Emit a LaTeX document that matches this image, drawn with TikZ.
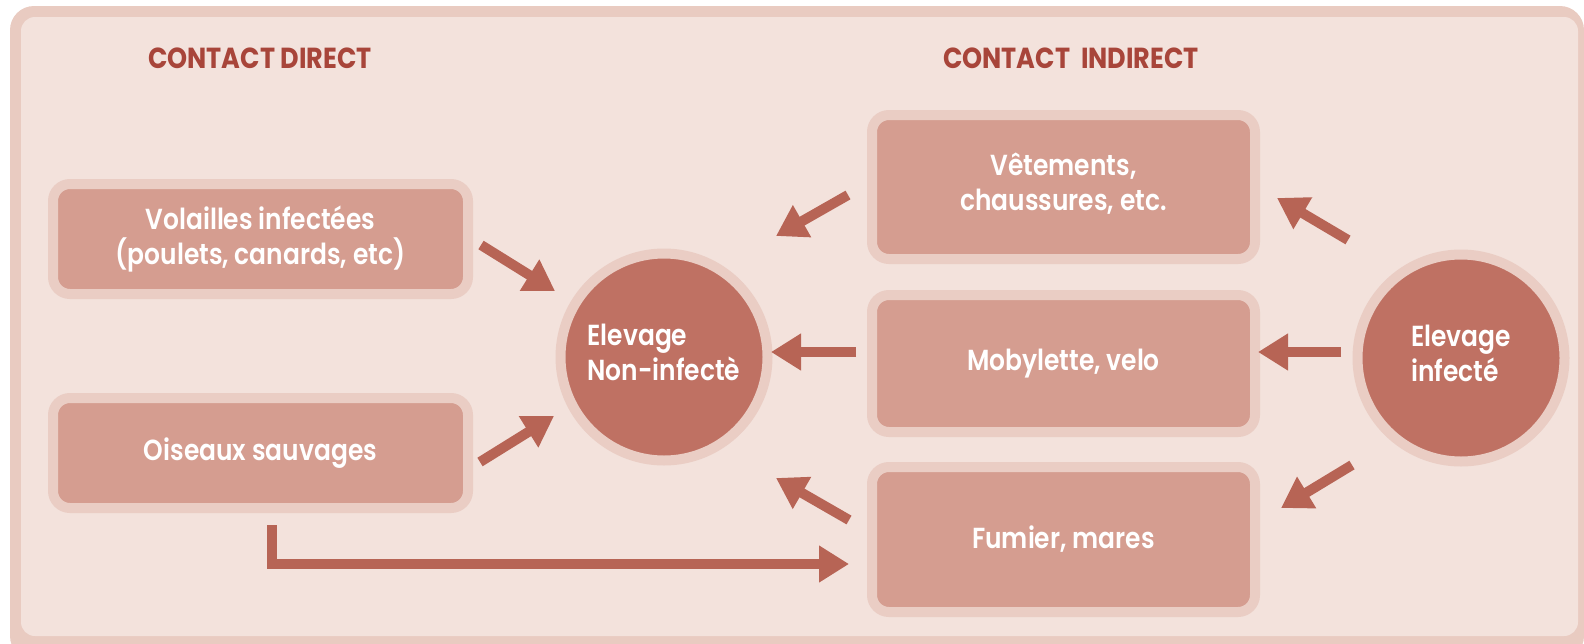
\documentclass[tikz,border=0pt]{standalone}
\usepackage{fontspec}
\newfontfamily\pf{Poppins}[FakeStretch=0.88]
\newfontfamily\pfm{Poppins}[UprightFont=* SemiBold, FakeStretch=0.86]
\usetikzlibrary{arrows.meta}
\definecolor{bgc}{HTML}{F3E2DC}
\definecolor{framec}{HTML}{E9CBC1}
\definecolor{ringc}{HTML}{EACDC4}
\definecolor{boxc}{HTML}{D59D90}
\definecolor{circc}{HTML}{BF7163}
\definecolor{arrc}{HTML}{B76455}
\definecolor{titc}{HTML}{A8453A}
\begin{document}
\begin{tikzpicture}[x=1pt,y=-1pt,
  txt/.style={text=white, font=\pfm\fontsize{29}{35}\selectfont},
  box/.style={txt, rounded corners=17pt, fill=boxc, draw=ringc, line width=10pt,
    align=center, inner sep=0pt, minimum width=#1},
  circ/.style={txt, circle, fill=circc, draw=ringc, line width=10pt,
    minimum size=207pt, align=left, inner sep=0pt},
  arr/.style={draw=arrc, line width=10pt, line join=miter, -{Triangle[length=30pt,width=35pt]}},
  ttl/.style={text=titc, font=\pf\bfseries\fontsize{29}{35}\selectfont}]
\useasboundingbox (0,0) rectangle (1584,643);
\begin{scope}
  \clip (0,0) rectangle (1584,643);
  \fill[framec, rounded corners=24pt] (10,6) rectangle (1584,660);
  \fill[bgc, rounded corners=14pt] (21,17) rectangle (1578,636);
\end{scope}
% titles
\node[ttl] (t1) at (260,58) {CONTACT DIRECT};
\node[ttl] (t2) at (1071,58) {CONTACT\ \ INDIRECT};
% left boxes
\node[box=415pt, minimum height=110pt] (vol) at (260.5,239) {Volailles infectées\\(poulets, canards, etc)};
\node[box=415pt, minimum height=110pt] (ois) at (260.5,453) {Oiseaux sauvages};
% right boxes
\node[box=383pt, minimum height=144pt] (vet) at (1063.5,187) {Vêtements,\\chaussures, etc.\\[-25pt]\mbox{}};
\node[box=383pt, minimum height=137pt] (mob) at (1063.5,363.5) {Mobylette, velo};
\node[box=383pt, minimum height=145pt] (fum) at (1063.5,539.5) {Fumier, mares};
% circles
\node[circ] (non) at (664,357) {Elevage\\Non-infectè\\[-25pt]\mbox{}};
\node[circ] (inf) at (1461,358) {Elevage\\infecté\\[-25pt]\mbox{}};
% arrow end points
\coordinate (a1s) at (481,245); \coordinate (a1e) at (555,291);
\coordinate (a2s) at (480,462); \coordinate (a2e) at (554,416);
\coordinate (a3s) at (848,195); \coordinate (a3e) at (776,236);
\coordinate (a4s) at (856,352); \coordinate (a4e) at (771,352);
\coordinate (a5s) at (849,520); \coordinate (a5e) at (776,478);
\coordinate (a6s) at (1348,240); \coordinate (a6e) at (1277,198);
\coordinate (a7s) at (1341,352); \coordinate (a7e) at (1258,352);
\coordinate (a8s) at (1352,465); \coordinate (a8e) at (1281,508);
\coordinate (a9s) at (272,525); \coordinate (a9e) at (849,564);
\draw[arr] (a1s) -- (a1e);
\draw[arr] (a2s) -- (a2e);
\draw[arr] (a3s) -- (a3e);
\draw[arr] (a4s) -- (a4e);
\draw[arr] (a5s) -- (a5e);
\draw[arr] (a6s) -- (a6e);
\draw[arr] (a7s) -- (a7e);
\draw[arr] (a8s) -- (a8e);
\draw[arr] (a9s) |- (a9e);
\end{tikzpicture}
\end{document}
